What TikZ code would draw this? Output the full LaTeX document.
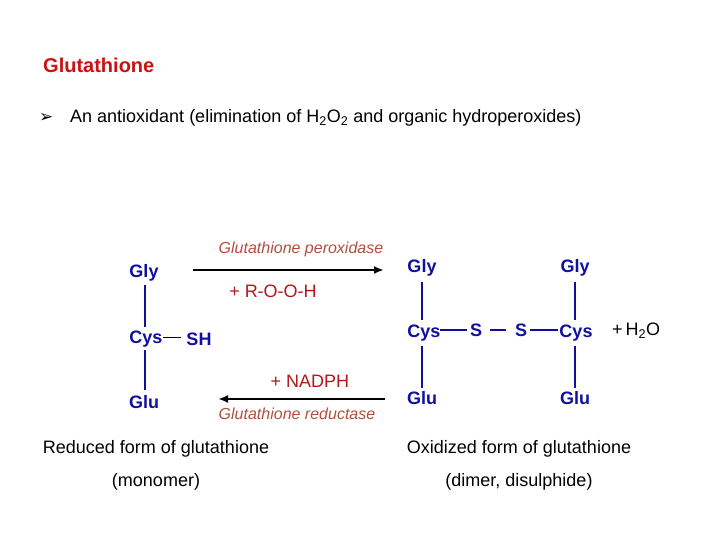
\documentclass[tikz,border=0pt]{standalone}
\usepackage{fontspec}
\setmainfont{Liberation Sans}
\newfontfamily\dv{DejaVu Sans}
\usetikzlibrary{arrows.meta}
\definecolor{tred}{HTML}{CC1111}
\definecolor{rred}{HTML}{B01818}
\definecolor{enz}{HTML}{B0503C}
\definecolor{aa}{HTML}{1010A0}
\begin{document}
\begin{tikzpicture}[x=1pt,y=-1pt,
  lab/.style={font=\fontsize{18}{20}\selectfont\bfseries,text=aa,inner sep=0pt},
  bond/.style={aa,line width=2.6pt},
  txt/.style={font=\fontsize{18}{21}\selectfont,inner sep=0pt},
  rx/.style={font=\fontsize{18}{21}\selectfont,text=rred,inner sep=0pt},
  en/.style={font=\fontsize{16}{19}\selectfont\itshape,text=enz,inner sep=0pt},
  arr/.style={line width=2.2pt,-{Latex[length=10pt,width=8pt]}}]
\useasboundingbox (0,0) rectangle (720,540);
\node[anchor=west,font=\fontsize{20}{23}\selectfont\bfseries,text=tred,inner sep=0pt] (title) at (43,65) {Glutathione};
\node[anchor=west,inner sep=0pt,font=\dv\fontsize{17}{19}\selectfont\bfseries] (bul) at (39,118) {➢};
\node[anchor=west,txt] (sub) at (70,118) {An antioxidant (elimination of H\textsubscript{2}O\textsubscript{2} and organic hydroperoxides)};
% left monomer
\node[lab] (g1) at (144,273) {Gly};
\node[lab] (c1) at (146,339) {Cys};
\node[lab] (u1) at (144,402) {Glu};
\node[lab] (sh) at (199,339) {SH};
\draw[bond] (145,285) -- (145,327);
\draw[bond] (145,350) -- (145,390);
\coordinate (l1) at (163,337); \coordinate (l2) at (181,337);
\draw[line width=0.9pt] (l1) -- (l2);
% arrows
\node[en] (ep) at (301,249) {Glutathione peroxidase};
\coordinate (a1) at (193,270); \coordinate (a2) at (384,270);
\draw[arr] (a1) -- (a2);
\node[rx] (rooh) at (273,291) {+ R-O-O-H};
\node[rx] (nadph) at (310,381) {+ NADPH};
\coordinate (b1) at (385,399); \coordinate (b2) at (218,399);
\draw[arr] (b1) -- (b2);
\node[en] (er) at (297,414) {Glutathione reductase};
% dimer
\node[lab] (g2) at (422,268) {Gly};
\node[lab] (c2) at (424,333) {Cys};
\node[lab] (u2) at (422,398) {Glu};
\node[lab] (s1) at (476,330) {S};
\node[lab] (s2) at (521,330) {S};
\node[lab] (c3) at (576,333) {Cys};
\node[lab] (g3) at (575,268) {Gly};
\node[lab] (u3) at (575,398) {Glu};
\draw[bond] (422,282) -- (422,320);
\draw[bond] (422,346) -- (422,388);
\draw[bond] (575,282) -- (575,320);
\draw[bond] (575,346) -- (575,388);
\draw[line width=1.6pt,aa] (440,330) -- (467,330);
\draw[line width=1.6pt,aa] (490,330) -- (506,330);
\draw[line width=1.6pt,aa] (530,330) -- (558,330);
\node[anchor=west,txt] (h2o) at (612,331) {+\,H\textsubscript{2}O};
% captions
\node[txt] (red) at (156,449) {Reduced form of glutathione};
\node[txt] (mon) at (156,482) {(monomer)};
\node[txt] (ox) at (519,449) {Oxidized form of glutathione};
\node[txt] (dim) at (519,482) {(dimer, disulphide)};
\end{tikzpicture}
\end{document}
